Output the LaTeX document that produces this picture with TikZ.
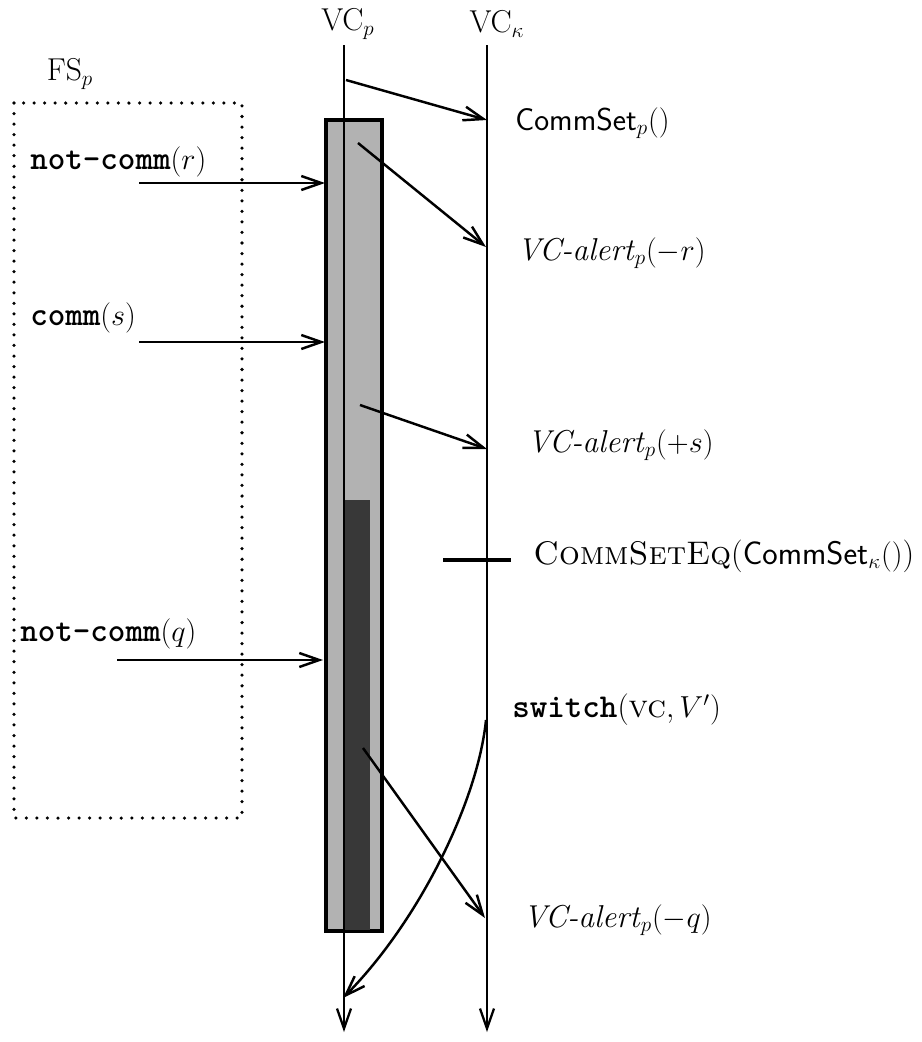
\documentclass[tikz,border=0pt]{standalone}
\usepackage{amsmath}
\usetikzlibrary{arrows.meta,positioning,calc}
\newcommand\ttw[1]{{\fontsize{19}{23}\selectfont\ttfamily\bfseries #1}}

\begin{document}
\begin{tikzpicture}[x=0.02cm, y=-0.02cm, >={Straight Barb[length=4mm,width=2.8mm]},
  every node/.style={font=\fontsize{18}{22}\selectfont},
  life/.style={line width=1.3pt},
  msg/.style={->, line width=1.4pt},
  lbl/.style={anchor=west, inner sep=0pt},
  fsbox/.style={line width=2pt, line cap=round, dash pattern=on 0pt off 6pt},
  outerbar/.style={fill=black!30, draw=black, line width=2.4pt},
  innerbar/.style={fill=black!78}]
\useasboundingbox (0,0) rectangle (921,1042);

% filter set box
\draw[fsbox] (14,103) rectangle (242,818);
\node (fs) at (70,74) {FS$_p$};

% activity bars
\filldraw[outerbar] (326,120) rectangle (382,931);
\fill[innerbar] (344,500) rectangle (370,930);

% process lines
\node (vcp) at (348,24) {VC$_p$};
\node (vck) at (497,24) {VC$_\kappa$};
\coordinate (p0) at (344,45);
\coordinate (p1) at (344,1032);
\coordinate (k0) at (487,45);
\coordinate (k1) at (487,1032);
\draw[life,->] (p0) -- (p1);
\draw[life,->] (k0) -- (k1);

% inputs from the filter set
\node[lbl] (nr) at (30,162) {\ttw{not-comm}$(r)$};
\node[lbl] (cs) at (30,318) {\ttw{comm}$(s)$};
\node[lbl] (nq) at (20,634) {\ttw{not-comm}$(q)$};
\coordinate (nr0) at (139,183);
\coordinate (nr1) at (325,183);
\coordinate (cs0) at (139,342);
\coordinate (cs1) at (325,342);
\coordinate (nq0) at (117,660);
\coordinate (nq1) at (323,660);
\draw[msg] (nr0) -- (nr1);
\draw[msg] (cs0) -- (cs1);
\draw[msg] (nq0) -- (nq1);

% messages to VC_kappa
\coordinate (m1a) at (346,80);
\coordinate (m1b) at (487,120);
\coordinate (m2a) at (358,143);
\coordinate (m2b) at (486,247);
\coordinate (m3a) at (360,405);
\coordinate (m3b) at (487,449);
\coordinate (m4a) at (363,748);
\coordinate (m4b) at (485,918);
\draw[msg] (m1a) -- (m1b);
\draw[msg] (m2a) -- (m2b);
\draw[msg] (m3a) -- (m3b);
\draw[msg] (m4a) -- (m4b);

\node[lbl] (cset) at (515,123) {\textsf{CommSet}$_p()$};
\node[lbl] (ar) at (517,253) {\textit{VC-alert}$_p(-r)$};
\node[lbl] (as) at (527,445) {\textit{VC-alert}$_p(+s)$};
\node[lbl] (aq) at (523,920) {\textit{VC-alert}$_p(-q)$};

% equality check
\coordinate (t0) at (443,560);
\coordinate (t1) at (511,560);
\draw[line width=2pt] (t0) -- (t1);
\node[lbl, font=\fontsize{18.6}{22}\selectfont] (ceq) at (533,556) {\textsc{CommSetEq}(\textsf{CommSet}$_\kappa()$)};

% view change
\node[lbl] (sw) at (512,710) {\ttw{switch}(\textsc{vc}$, V')$};
\coordinate (s0) at (486,720);
\coordinate (s1) at (343,998);
\draw[msg] (s0) .. controls (478,800) and (420,920) .. (s1);
\end{tikzpicture}
\end{document}
